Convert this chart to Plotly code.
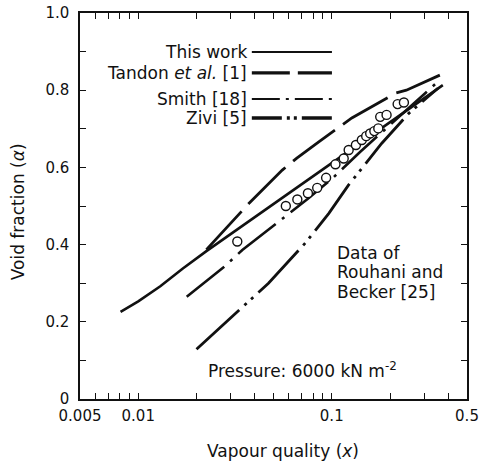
import numpy as np
import plotly.graph_objects as go

# ---------------- data ----------------
this_work_x = [0.0081, 0.0100, 0.0130, 0.0170, 0.0225, 0.0333, 0.050, 0.070, 0.100, 0.140, 0.200, 0.280, 0.375]
this_work_y = [0.226, 0.253, 0.292, 0.338, 0.383, 0.443, 0.505, 0.556, 0.611, 0.663, 0.717, 0.769, 0.813]

tandon_x = [0.0225, 0.0347, 0.0375, 0.0555, 0.066, 0.0857, 0.127, 0.215, 0.243, 0.362]
tandon_y = [0.387, 0.490, 0.508, 0.593, 0.624, 0.666, 0.728, 0.793, 0.800, 0.839]

smith_x = [0.0178, 0.0279, 0.0345, 0.0546, 0.075, 0.100, 0.140, 0.200, 0.270, 0.350]
smith_y = [0.265, 0.343, 0.386, 0.464, 0.518, 0.570, 0.640, 0.710, 0.770, 0.820]

zivi_x = [0.0200, 0.0340, 0.0471, 0.0733, 0.0966, 0.122, 0.146, 0.181, 0.250, 0.354]
zivi_y = [0.129, 0.235, 0.300, 0.405, 0.481, 0.554, 0.602, 0.662, 0.740, 0.805]

data_x = [0.0325, 0.0579, 0.0664, 0.0753, 0.0841, 0.0935, 0.1045, 0.1153, 0.1223,
          0.1333, 0.143, 0.1507, 0.158, 0.166, 0.174, 0.178, 0.192, 0.219, 0.236]
data_y = [0.408, 0.500, 0.517, 0.533, 0.547, 0.573, 0.608, 0.623, 0.645,
          0.658, 0.671, 0.681, 0.688, 0.694, 0.701, 0.731, 0.736, 0.764, 0.768]

x_tickvals = [0.005, 0.006, 0.007, 0.008, 0.009, 0.01, 0.02, 0.03, 0.04, 0.05, 0.06,
              0.07, 0.08, 0.09, 0.1, 0.2, 0.3, 0.4, 0.5]
x_ticktext = ["0.005", "", "", "", "", "0.01", "", "", "", "", "", "", "", "", "0.1",
              "", "", "", "0.5"]
y_tickvals = [0, 0.1, 0.2, 0.3, 0.4, 0.5, 0.6, 0.7, 0.8, 0.9, 1.0]
y_ticktext = ["0", "", "0.2", "", "0.4", "", "0.6", "", "0.8", "", "1.0"]

legend_labels = ["This work", "Tandon <i>et al.</i> [1]", "Smith [18]", "Zivi [5]"]
data_label = ["Data of", "Rouhani and", "Becker [25]"]
pressure_label = "Pressure: 6000 kN m<sup>-2</sup>"
x_title = "Vapour quality (<i>x</i>)"
y_title = "Void fraction (<i>α</i>)"

# ---------------- styles ----------------
INK = "#111111"
FONT = "DejaVu Sans"
dash_solid = "solid"
dash_tandon = "52px,10px"
dash_smith = "48px,8px,3px,8px"
dash_zivi = "58px,7px,3px,6px,3px,7px"

fig = go.Figure()
fig.add_trace(go.Scatter(x=this_work_x, y=this_work_y, mode="lines",
                         line=dict(color=INK, width=2.6, dash=dash_solid)))
fig.add_trace(go.Scatter(x=tandon_x, y=tandon_y, mode="lines",
                         line=dict(color=INK, width=2.8, dash=dash_tandon)))
fig.add_trace(go.Scatter(x=smith_x, y=smith_y, mode="lines",
                         line=dict(color=INK, width=2.6, dash=dash_smith)))
fig.add_trace(go.Scatter(x=zivi_x, y=zivi_y, mode="lines",
                         line=dict(color=INK, width=2.8, dash=dash_zivi)))
fig.add_trace(go.Scatter(x=data_x, y=data_y, mode="markers",
                         marker=dict(symbol="circle", size=9, color="white",
                                     line=dict(color=INK, width=1.4))))

# legend-like samples (text left, line right)
leg_y = [0.899, 0.845, 0.777, 0.728]
leg_dash = [dash_solid, "38px,8px", "28px,6px,3px,6px", "30px,5px,3px,4px,3px,5px"]
leg_w = [2.2, 3.4, 2.0, 3.4]
for lab, yy, dsh, w in zip(legend_labels, leg_y, leg_dash, leg_w):
    fig.add_shape(type="line", xref="paper", yref="paper", x0=0.444, x1=0.651,
                  y0=yy, y1=yy, line=dict(color=INK, width=w, dash=dsh))
    fig.add_annotation(xref="paper", yref="paper", x=0.436, y=yy, text=lab,
                       showarrow=False, xanchor="right", yanchor="middle",
                       font=dict(family=FONT, size=17, color=INK))

for i, t in enumerate(data_label):
    fig.add_annotation(xref="paper", yref="paper", x=0.658, y=0.378 - i * 0.050, text=t,
                       showarrow=False, xanchor="left", yanchor="middle",
                       font=dict(family=FONT, size=17, color=INK))

fig.add_annotation(xref="paper", yref="paper", x=0.575, y=0.075, text=pressure_label,
                   showarrow=False, xanchor="center", yanchor="middle",
                   font=dict(family=FONT, size=17, color=INK))

# axis titles
fig.add_annotation(xref="paper", yref="paper", x=0.525, y=-0.135, text=x_title,
                   showarrow=False, xanchor="center", yanchor="middle",
                   font=dict(family=FONT, size=17, color=INK))
fig.add_annotation(xref="paper", yref="paper", x=-0.160, y=0.484, text=y_title,
                   showarrow=False, xanchor="center", yanchor="middle", textangle=-90,
                   font=dict(family=FONT, size=17, color=INK))

fig.update_layout(
    width=480, height=461,
    margin=dict(l=80, r=13, t=13, b=62),
    paper_bgcolor="white", plot_bgcolor="white",
    showlegend=False,
    font=dict(family=FONT, color=INK, size=15),
)
fig.update_xaxes(type="log", range=[np.log10(0.005), np.log10(0.5)], automargin=False,
                 tickmode="array", tickvals=x_tickvals, ticktext=x_ticktext,
                 ticks="inside", ticklen=6, tickwidth=1, tickcolor=INK,
                 showline=True, linecolor=INK, linewidth=1.5, mirror="ticks",
                 showgrid=False, zeroline=False, ticklabelstandoff=2,
                 ticklabeloverflow="allow",
                 tickfont=dict(family=FONT, size=15, color=INK))
fig.update_yaxes(range=[0, 1.0], automargin=False,
                 tickmode="array", tickvals=y_tickvals, ticktext=y_ticktext,
                 ticks="inside", ticklen=6, tickwidth=1, tickcolor=INK,
                 showline=True, linecolor=INK, linewidth=1.5, mirror="ticks",
                 showgrid=False, zeroline=False, ticklabelstandoff=6,
                 ticklabeloverflow="allow",
                 tickfont=dict(family=FONT, size=15, color=INK))

# remove the browser's default 8px body margin so the figure sits at (0, 0)
fig.write_html("out.html",
               config={"displayModeBar": False},
               post_script="document.body.style.margin='0';document.body.style.overflow='hidden';")
